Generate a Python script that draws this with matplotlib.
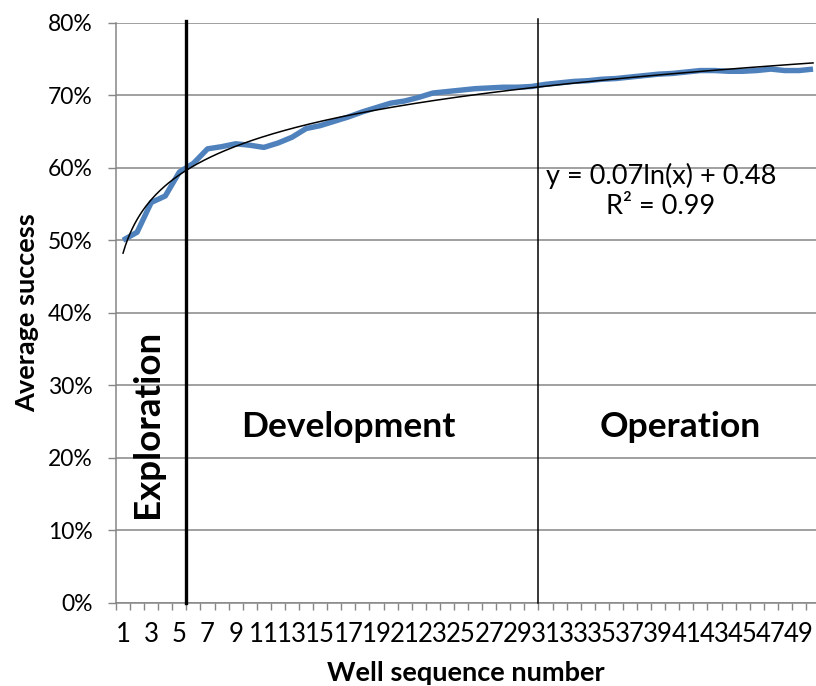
import numpy as np
import matplotlib
matplotlib.use("Agg")
import matplotlib.pyplot as plt
from matplotlib.ticker import PercentFormatter

plt.rcParams['font.family'] = ['Lato', 'DejaVu Sans']

# Well sequence numbers and average success
wells = np.arange(1, 51)
avg_success = [
    0.500, 0.511, 0.552, 0.561, 0.594, 0.606, 0.626, 0.629, 0.633, 0.631,
    0.628, 0.634, 0.642, 0.654, 0.658, 0.664, 0.670, 0.677, 0.683, 0.689,
    0.692, 0.697, 0.703, 0.705, 0.707, 0.709, 0.710, 0.711, 0.711, 0.712,
    0.715, 0.717, 0.719, 0.720, 0.722, 0.723, 0.725, 0.727, 0.729, 0.730,
    0.732, 0.734, 0.734, 0.733, 0.733, 0.734, 0.736, 0.734, 0.734, 0.736,
]
phase_bounds = [5.5, 30.5]
phase_names = ["Exploration", "Development", "Operation"]
y_ticks = [0.0, 0.1, 0.2, 0.3, 0.4, 0.5, 0.6, 0.7, 0.8]
x_labels = list(range(1, 50, 2))

grey = "#868686"
blue = "#4F81BD"

fig = plt.figure(figsize=(8.16, 6.86), dpi=100)
ax = fig.add_axes([116 / 816, 83.3 / 686, 700 / 816, 580 / 686])

# gridlines
for y in y_ticks:
    ax.axhline(y, color=grey, lw=1.1, zorder=1)

ax.plot(wells, avg_success, color=blue, lw=3.9, solid_capstyle="butt", zorder=3)

# logarithmic trendline fitted to the data
slope, icpt = np.polyfit(np.log(wells), avg_success, 1)
xs = np.linspace(1, 50, 300)
ax.plot(xs, slope * np.log(xs) + icpt, color="black", lw=1.1, zorder=4)

# phase boundaries
ax.axvline(phase_bounds[0], ymin=0, ymax=1.003, color="black", lw=2.4, zorder=5, clip_on=False)
ax.axvline(phase_bounds[1], ymin=0, ymax=1.006, color="black", lw=1.1, zorder=5, clip_on=False)

ax.text(2.75, 0.246, phase_names[0], rotation=90, ha="center", va="center",
        fontsize=26.5, fontweight="bold")
ax.text(17.0, 0.243, phase_names[1], ha="center", va="center",
        fontsize=25.5, fontweight="bold")
ax.text(40.6, 0.243, phase_names[2], ha="center", va="center",
        fontsize=25.5, fontweight="bold")

ax.text(39.2, 0.589, "y = 0.07ln(x) + 0.48", ha="center", va="center", fontsize=19.5)
ax.text(39.2, 0.546, "R² = 0.99", ha="center", va="center", fontsize=19.5)

ax.set_xlim(0.5, 50.21)
ax.set_ylim(0, 0.8)

ax.set_yticks(y_ticks)
ax.yaxis.set_major_formatter(PercentFormatter(1.0, decimals=0))
ax.tick_params(axis="y", length=6, width=1, color=grey, pad=11, labelsize=16.5)

ax.set_xticks(x_labels)
ax.set_xticklabels([str(v) for v in x_labels])
ax.set_xticks(np.arange(0.5, 50, 1.0), minor=True)
ax.tick_params(axis="x", which="major", length=0, pad=14, labelsize=18.5)
ax.tick_params(axis="x", which="minor", length=5, width=1, color=grey)

for side in ["top", "right"]:
    ax.spines[side].set_visible(False)
for side in ["left", "bottom"]:
    ax.spines[side].set_color(grey)
    ax.spines[side].set_linewidth(1.1)

ax.set_ylabel("Average success", fontsize=19.5, fontweight="bold", labelpad=6)
ax.set_xlabel("Well sequence number", fontsize=19.5, fontweight="bold", labelpad=10)

fig.savefig("out.png", dpi=100)
